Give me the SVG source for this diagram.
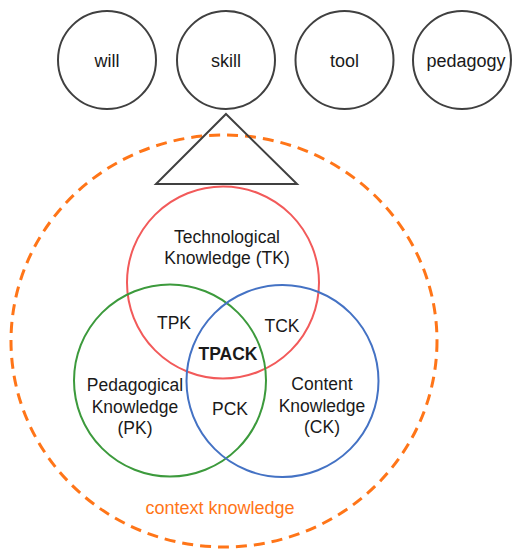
<svg xmlns="http://www.w3.org/2000/svg" width="512" height="549" viewBox="0 0 512 549">
<style>
text{font-family:"Liberation Sans",Arial,sans-serif;font-size:17.5px;fill:#1a1a1a;text-anchor:middle}
.t{font-size:18px}
.top{fill:none;stroke:#404040;stroke-width:2}
.venn{fill:none;stroke-width:2}
</style>
<rect width="512" height="549" fill="#fff"/>
<g id="context">
<ellipse cx="224" cy="341" rx="213" ry="206" fill="none" stroke="#FF7518" stroke-width="3" stroke-dasharray="11,7"/>
<text class="t" x="220" y="514" style="fill:#FF7518">context knowledge</text>
</g>
<g id="will"><circle class="top" cx="107" cy="60" r="49"/><text class="t" x="107" y="67">will</text></g>
<g id="skill"><circle class="top" cx="226" cy="60" r="49"/><text class="t" x="226" y="67">skill</text></g>
<g id="tool"><circle class="top" cx="344.5" cy="60" r="49"/><text class="t" x="344.5" y="67">tool</text></g>
<g id="pedagogy"><circle class="top" cx="462" cy="60" r="49"/><text class="t" x="466" y="67">pedagogy</text></g>
<g id="triangle"><polygon points="226,114 297,184 156,184" fill="none" stroke="#404040" stroke-width="2"/></g>
<g id="TK"><circle class="venn" cx="223" cy="282.5" r="96" stroke="#F25A5A"/><text x="227" y="243">Technological</text><text x="227" y="264">Knowledge (TK)</text></g>
<g id="PK"><circle class="venn" cx="170" cy="380.5" r="96" stroke="#3C9A3C"/><text x="135" y="391">Pedagogical</text><text x="135" y="413">Knowledge</text><text x="135" y="434">(PK)</text></g>
<g id="CK"><circle class="venn" cx="282.5" cy="381" r="96" stroke="#4472C4"/><text x="322" y="390">Content</text><text x="322" y="412">Knowledge</text><text x="322" y="433">(CK)</text></g>
<g id="TPK"><text x="174" y="329">TPK</text></g>
<g id="TCK"><text x="282" y="332">TCK</text></g>
<g id="PCK"><text x="230" y="415">PCK</text></g>
<g id="TPACK"><text x="228" y="360" font-weight="bold">TPACK</text></g>
<g id="connectors"></g>
</svg>
